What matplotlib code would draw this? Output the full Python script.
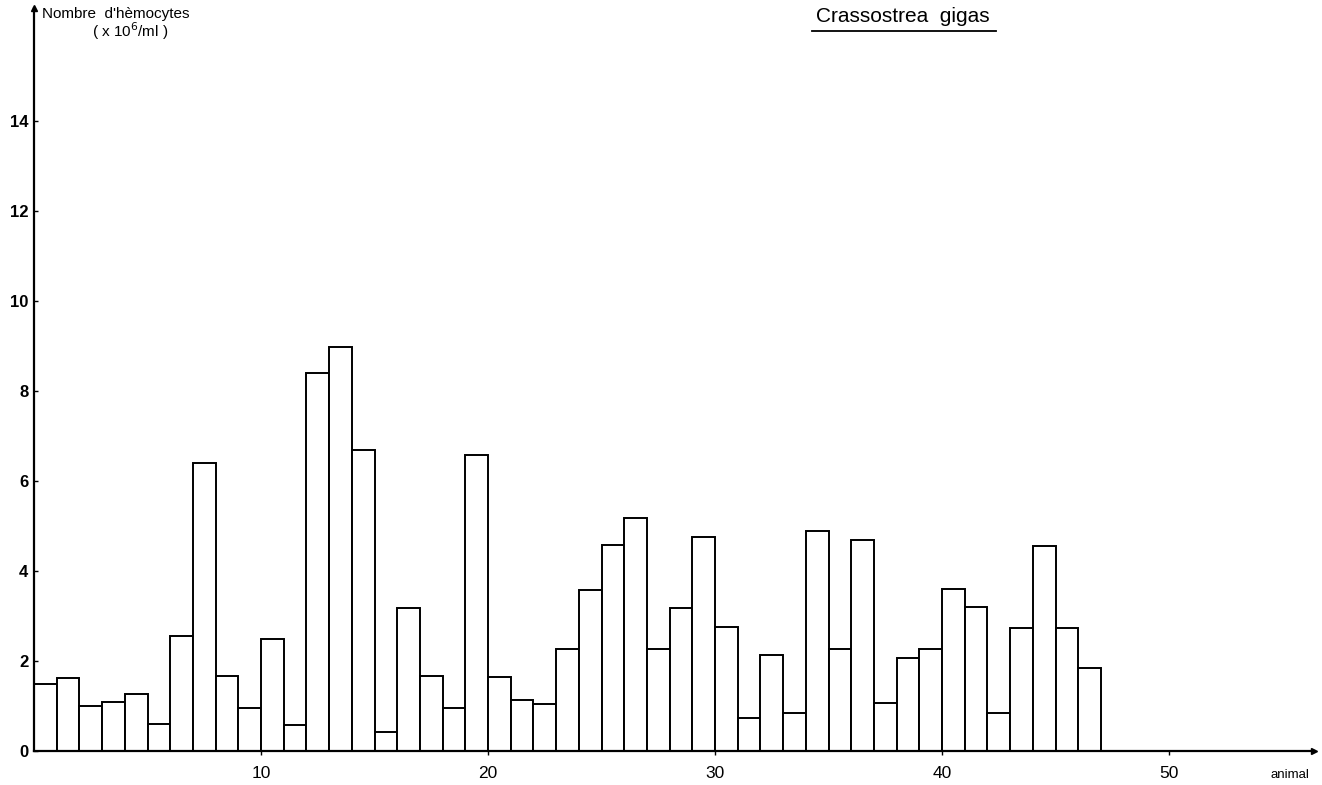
import numpy as np
import matplotlib as mpl
import matplotlib.pyplot as plt

mpl.rc('font', family=['Liberation Sans', 'DejaVu Sans'])

# Hemocyte counts (x10^6 / ml) for each animal
animal = np.arange(1, 48)
counts = [1.50, 1.62, 1.00, 1.08, 1.26, 0.59, 2.56, 6.39, 1.67, 0.95,
          2.48, 0.58, 8.39, 8.98, 6.69, 0.43, 3.18, 1.67, 0.96, 6.58,
          1.65, 1.13, 1.04, 2.27, 3.58, 4.58, 5.18, 2.27, 3.18, 4.76,
          2.76, 0.73, 2.13, 0.84, 4.90, 2.27, 4.69, 1.06, 2.06, 2.27,
          3.59, 3.19, 0.85, 2.74, 4.56, 2.74, 1.84]
yticks = [0, 2, 4, 6, 8, 10, 12, 14]
xticks = [10, 20, 30, 40, 50]

W, H = 1322, 785
fig = plt.figure(figsize=(W / 100, H / 100), dpi=100)
ax = fig.add_axes((34 / W, 34 / H, 1280 / W, 743 / H))

ax.bar(animal - 1, counts, width=1, align='edge', facecolor='white',
       edgecolor='black', linewidth=1.4)

ax.set_xlim(0, 1280 / 22.7)
ax.set_ylim(0, 743 / 45.0)
for s in ['top', 'right']:
    ax.spines[s].set_visible(False)
for s in ['left', 'bottom']:
    ax.spines[s].set_linewidth(1.6)

ax.set_yticks(yticks)
ax.set_yticklabels([str(v) for v in yticks], fontsize=12, fontweight='bold')
ax.set_xticks(xticks)
ax.set_xticklabels([str(v) for v in xticks], fontsize=12.5)
ax.tick_params(axis='y', direction='in', length=3, width=1, pad=4)
ax.tick_params(axis='x', direction='out', length=3, width=1, pad=8)

# small arrow heads at the ends of both axes
ax.plot(1, 0, '>k', ms=4, transform=ax.transAxes, clip_on=False)
ax.plot(0, 1, '^k', ms=4, transform=ax.transAxes, clip_on=False)

fig.text(42 / W, 1 - 14 / H, "Nombre  d'hèmocytes", fontsize=11,
         ha='left', va='center')
fig.text(130 / W, 1 - 31 / H, r"( x 10$^{6}$/ml )", fontsize=11,
         ha='center', va='center')
fig.text(1290 / W, 1 - 775 / H, "animal", fontsize=9.5, ha='center',
         va='center')

fig.text(903 / W, 1 - 17 / H, "Crassostrea  gigas", fontsize=15,
         ha='center', va='center')
fig.add_artist(mpl.lines.Line2D([812 / W, 996 / W], [1 - 31 / H, 1 - 31 / H],
                                color='black', linewidth=1.3))

fig.savefig('out.png', dpi=100)
